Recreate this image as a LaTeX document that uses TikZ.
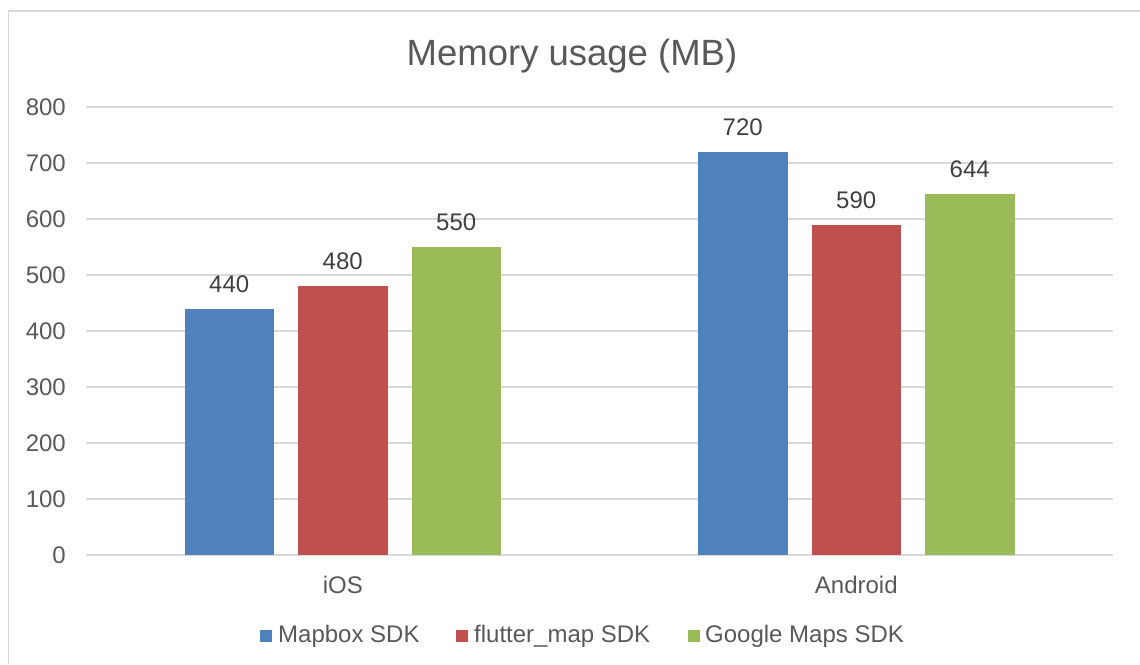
\documentclass[tikz,border=0pt]{standalone}
\usepackage{fontspec}
\setmainfont{Liberation Sans}
\definecolor{cblue}{HTML}{4F81BD}
\definecolor{cred}{HTML}{C0504D}
\definecolor{cgreen}{HTML}{9BBB59}
\definecolor{gridgray}{HTML}{D9D9D9}
\definecolor{txtgray}{HTML}{595959}
\definecolor{valgray}{HTML}{404040}
\tikzset{
  gridline/.style={draw=gridgray, line width=1.5pt},
  axlabel/.style={inner sep=0pt, text=txtgray, font=\fontsize{24}{28}\selectfont},
  vallabel/.style={inner sep=0pt, text=valgray, font=\fontsize{24}{28}\selectfont, anchor=base},
  legsq/.style={inner sep=0pt, minimum size=12pt},
}
\begin{document}
\begin{tikzpicture}[x=1pt,y=-1pt]
\useasboundingbox (0,0) rectangle (1140,664);
\fill[white] (0,0) rectangle (1140,664);
% chart frame
\draw[draw=gridgray, line width=1.5pt] (8.5,664) -- (8.5,11) -- (1140,11);
% title
\node[axlabel, anchor=base, font=\fontsize{36.5}{40}\selectfont] (title) at (572,65) {Memory usage (MB)};
% gridlines and y labels
\foreach \v in {0,...,8} {
  \pgfmathtruncatemacro\lab{100*\v}
  \draw[gridline] (86,{555-56*\v}) -- (1113,{555-56*\v});
  \node[axlabel, anchor=base east] (y\v) at (66,{563-56*\v}) {\lab};
}
% bars and value labels
\foreach \x/\val/\c/\n in {184.5/440/cblue/a1, 298/480/cred/a2, 411.5/550/cgreen/a3, 698/720/cblue/b1, 811.5/590/cred/b2, 925/644/cgreen/b3} {
  \fill[\c] (\x,555) rectangle ++(89.5,{-0.56*\val});
  \node[vallabel] (v\n) at ({\x+44.75},{555-0.56*\val-16.6}) {\val};
}
% category labels
\node[axlabel, anchor=base] (ios) at (342.75,593) {iOS};
\node[axlabel, anchor=base] (android) at (856.25,593) {Android};
% legend
\node[legsq, fill=cblue] (lq1) at (265.5,636) {};
\node[axlabel, anchor=base west] (lt1) at (278,642) {Mapbox SDK};
\node[legsq, fill=cred] (lq2) at (462,636) {};
\node[axlabel, anchor=base west] (lt2) at (474,642) {flutter\_map SDK};
\node[legsq, fill=cgreen] (lq3) at (694,636) {};
\node[axlabel, anchor=base west] (lt3) at (705,642) {Google Maps SDK};
\end{tikzpicture}
\end{document}
